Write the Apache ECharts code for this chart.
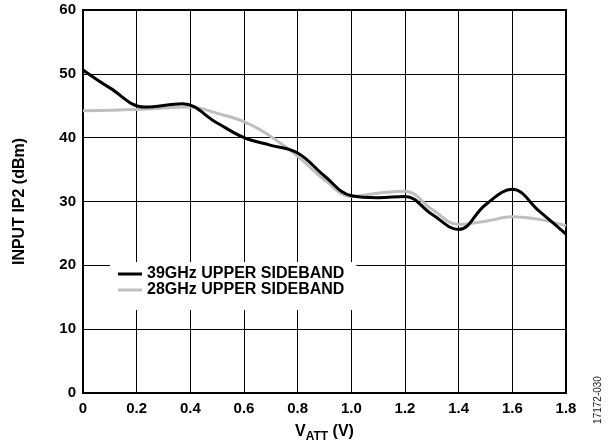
<!DOCTYPE html>
<html>
<head>
<meta charset="utf-8">
<script src="https://cdn.jsdelivr.net/npm/echarts@6/dist/echarts.min.js"></script>
<style>html,body{margin:0;padding:0;background:#fff}#c{width:615px;height:448px}</style>
</head>
<body>
<div id="c"></div>
<script>
var xValues = [0, 0.1, 0.23, 0.37, 0.5, 0.6, 0.7, 0.8, 0.9, 1.0, 1.1, 1.2, 1.3, 1.4, 1.5, 1.6, 1.7, 1.8];
var s39 = [50.6, 47.8, 44.8, 45.3, 42.3, 40.0, 38.8, 37.6, 34.0, 30.9, 30.6, 30.8, 28.0, 25.6, 29.5, 31.9, 28.5, 24.9];
var x28 = [0, 0.2, 0.4, 0.5, 0.6, 0.7, 0.8, 0.9, 1.0, 1.1, 1.2, 1.3, 1.4, 1.5, 1.6, 1.7, 1.8];
var s28 = [44.2, 44.4, 44.8, 43.8, 42.5, 40.2, 37.1, 33.4, 30.8, 31.3, 31.6, 28.8, 26.4, 26.9, 27.6, 27.2, 26.2];
var xTickLabels = ['0', '0.2', '0.4', '0.6', '0.8', '1.0', '1.2', '1.4', '1.6', '1.8'];
var yTickLabels = ['0', '10', '20', '30', '40', '50', '60'];
var seriesNames = ['39GHz UPPER SIDEBAND', '28GHz UPPER SIDEBAND'];

var FONT = 'Liberation Sans, Arial, sans-serif';
function pairs(xs, ys) { return xs.map(function (x, i) { return [x, ys[i]]; }); }

var chart = echarts.init(document.getElementById('c'));
chart.setOption({
  animation: false,
  backgroundColor: '#fff',
  grid: { left: 83, top: 10, right: 49, bottom: 53, show: true, borderColor: '#000', borderWidth: 2, backgroundColor: 'transparent' },
  xAxis: {
    type: 'value', min: 0, max: 1.8, interval: 0.2,
    axisLine: { show: false }, axisTick: { show: false },
    splitLine: { show: true, lineStyle: { color: '#000', width: 1 } },
    axisLabel: { margin: 8, color: '#000', fontFamily: FONT, fontWeight: 'bold', fontSize: 15,
      formatter: function (v) { return xTickLabels[Math.round(v / 0.2)]; } },
    name: '{a|V}{b|ATT}{a| (V)}', nameLocation: 'middle', nameGap: 31,
    nameTextStyle: { rich: {
      a: { fontFamily: FONT, fontWeight: 'bold', fontSize: 16, color: '#000', verticalAlign: 'top' },
      b: { fontFamily: FONT, fontWeight: 'bold', fontSize: 12, color: '#000', verticalAlign: 'top', padding: [7, 0, 0, 0] }
    } }
  },
  yAxis: {
    type: 'value', min: 0, max: 60, interval: 10,
    axisLine: { show: false }, axisTick: { show: false },
    splitLine: { show: true, lineStyle: { color: '#000', width: 1 } },
    axisLabel: { margin: 7, color: '#000', fontFamily: FONT, fontWeight: 'bold', fontSize: 15,
      formatter: function (v) { return yTickLabels[Math.round(v / 10)]; } },
    name: 'INPUT IP2 (dBm)', nameLocation: 'middle', nameGap: 55,
    nameTextStyle: { fontFamily: FONT, fontWeight: 'bold', fontSize: 16, color: '#000' }
  },
  legend: {
    left: 110, top: 262, orient: 'vertical', itemGap: 0,
    backgroundColor: '#fff', padding: [4, 12, 12, 8],
    itemWidth: 24, itemHeight: 3, icon: 'rect',
    textStyle: { fontFamily: FONT, fontWeight: 'bold', fontSize: 16, color: '#000', lineHeight: 15, height: 15 },
    data: seriesNames
  },
  series: [
    { name: seriesNames[1], type: 'line', smooth: 0.4, showSymbol: false, symbol: 'none',
      lineStyle: { color: '#bfbfbf', width: 3 }, itemStyle: { color: '#bfbfbf' }, data: pairs(x28, s28), z: 2 },
    { name: seriesNames[0], type: 'line', smooth: 0.4, showSymbol: false, symbol: 'none',
      lineStyle: { color: '#000', width: 3 }, itemStyle: { color: '#000' }, data: pairs(xValues, s39), z: 3 }
  ],
  graphic: [
    { type: 'text', x: 598, y: 400, rotation: Math.PI / 2,
      style: { text: '17172-030', font: '10px ' + FONT, fill: '#222', textAlign: 'center', textVerticalAlign: 'middle' } }
  ]
});
</script>
</body>
</html>
